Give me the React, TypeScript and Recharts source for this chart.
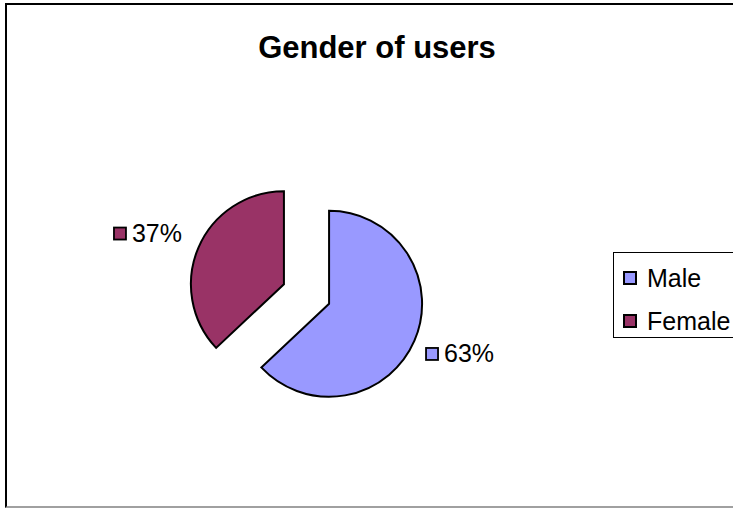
import React from 'react';
import { PieChart, Pie, Cell, Legend } from 'recharts';

const categories = ['Male', 'Female'];
const shares = [63, 37];
const labelTexts = ['63%', '37%'];
const COLORS = ['#9999FF', '#993366'];

const W = 733;
const H = 508;
const CX = 306.5;
const CY = 294;
const R = 93;
const EXPLODE = 24.6;
const FONT = '"Liberation Sans", Arial, Helvetica, sans-serif';
const RAD = Math.PI / 180;

const total = shares.reduce((a, b) => a + b, 0);

const slices = (() => {
  let cursor = 90;
  return shares.map((v, i) => {
    const sweep = (360 * v) / total;
    const start = cursor;
    const end = cursor - sweep;
    cursor = end;
    const mid = (start + end) / 2;
    const cx = CX + EXPLODE * Math.cos(mid * RAD);
    const cy = CY - EXPLODE * Math.sin(mid * RAD);
    return { name: categories[i], value: v, start, end, mid, cx, cy, i };
  });
})();

const makeLabel = (idx: number) => (props: any) => {
  const s = slices[idx];
  const rr = R + 17;
  const ax = s.cx + rr * Math.cos(s.mid * RAD);
  const ay = s.cy - rr * Math.sin(s.mid * RAD);
  const right = Math.cos(s.mid * RAD) >= 0;
  const boxW = 71;
  let left: number;
  let top: number;
  if (right) {
    left = ax - 4;
    top = ay;
  } else {
    left = ax + 2 - boxW;
    top = ay + 1.5 - 15;
  }
  return (
    <g key={`lab-${idx}`}>
      <rect x={left} y={top + 0.5} width={12} height={12} fill={COLORS[idx]} stroke="#000" strokeWidth={1.8} />
      <text x={left + 18} y={top + 15} fontSize={25} fontFamily={FONT} fill="#000">
        {labelTexts[idx]}
      </text>
    </g>
  );
};

const LegendBox = () => (
  <div
    style={{
      border: '1px solid #000',
      boxSizing: 'border-box',
      width: 140,
      height: 86,
      background: '#fff',
      fontFamily: FONT,
      fontSize: 25,
      position: 'relative',
    }}
  >
    {categories.map((c, i) => (
      <div key={c} style={{ position: 'absolute', left: 9, top: 10 + i * 43, height: 30, display: 'flex', alignItems: 'center' }}>
        <div style={{ width: 10, height: 10, background: COLORS[i], border: '2px solid #000', marginRight: 10 }} />
        <span style={{ lineHeight: '30px', color: '#000' }}>{c}</span>
      </div>
    ))}
  </div>
);

export default function App() {
  return (
    <div style={{ position: 'fixed', left: 0, top: 0, width: W, height: H, overflow: 'hidden', background: '#fff' }}>
      <div
        style={{
          position: 'absolute',
          left: 5,
          top: 3,
          width: 800,
          height: 505,
          boxSizing: 'border-box',
          borderTop: '2px solid #000',
          borderLeft: '2px solid #000',
          borderBottom: '2px solid #a0a0a0',
        }}
      />
      <div
        style={{
          position: 'absolute',
          left: 0,
          top: 32,
          width: 754,
          textAlign: 'center',
          fontFamily: FONT,
          fontWeight: 'bold',
          fontSize: 31,
          lineHeight: '31px',
          color: '#000',
        }}
      >
        Gender of users
      </div>
      <div style={{ position: 'absolute', left: 0, top: 0 }}>
        <PieChart width={W} height={H} margin={{ top: 0, right: 0, bottom: 0, left: 0 }}>
          {slices.map((s, idx) => (
            <Pie
              key={s.name}
              data={[{ name: s.name, value: s.value }]}
              dataKey="value"
              nameKey="name"
              cx={s.cx}
              cy={s.cy}
              outerRadius={R}
              startAngle={s.start}
              endAngle={s.end}
              stroke="#000"
              strokeWidth={2}
              label={makeLabel(idx)}
              labelLine={false}
              isAnimationActive={false}
            >
              <Cell fill={COLORS[idx]} />
            </Pie>
          ))}
          <Legend
            content={() => <LegendBox />}
            wrapperStyle={{ position: 'absolute', left: 613, top: 252, width: 140, height: 86 }}
          />
        </PieChart>
      </div>
    </div>
  );
}
